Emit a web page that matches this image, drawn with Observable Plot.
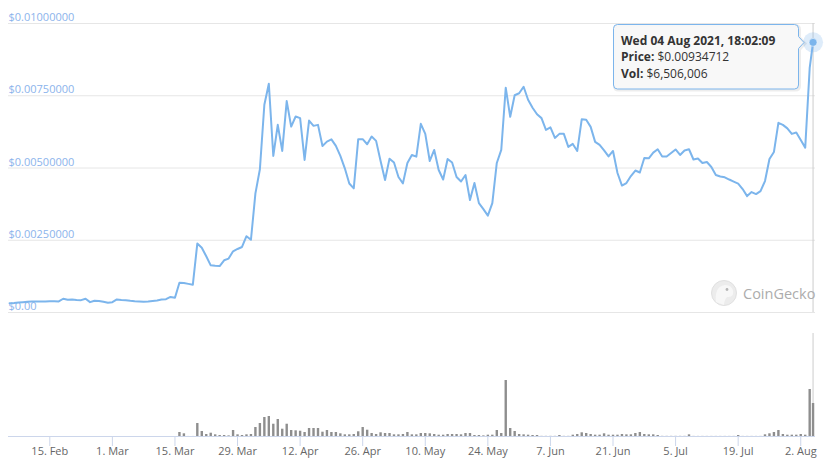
<!DOCTYPE html>
<html>
<head>
<meta charset="utf-8">
<script src="https://cdn.jsdelivr.net/npm/d3@7"></script>
<script src="https://cdn.jsdelivr.net/npm/@observablehq/plot@0.6"></script>
<style>
  html, body { margin: 0; padding: 0; background: #fff; }
  #wrap { position: relative; width: 829px; height: 469px; font-family: "Open Sans", sans-serif; }
  #wrap svg { display: block; }
  #overlay { position: absolute; left: 0; top: 0; pointer-events: none; }
</style>
</head>
<body>
<div id="wrap"></div>
<script>
// ---- data ----
const startDay = Date.UTC(2021, 1, 6);            // first daily point (6 Feb 2021)
const lastTime = Date.UTC(2021, 7, 4, 18, 2, 9);  // live point (Wed 04 Aug 2021, 18:02:09)

const prices = [
  0.000323, 0.000330, 0.000347, 0.000358, 0.000372, 0.000382, 0.000382, 0.000382, 0.000382, 0.000392,
  0.000389, 0.000382, 0.000476, 0.000441, 0.000451, 0.000434, 0.000427, 0.000476, 0.000358, 0.000406,
  0.000399, 0.000372, 0.000337, 0.000358, 0.000451, 0.000434, 0.000424, 0.000406, 0.000392, 0.000382,
  0.000372, 0.000382, 0.000399, 0.000417, 0.000451, 0.000462, 0.000538, 0.000510, 0.001031, 0.001017,
  0.000990, 0.000962, 0.002385, 0.002240, 0.001944, 0.001632, 0.001615, 0.001608, 0.001806, 0.001865,
  0.002118, 0.002198, 0.002267, 0.002639, 0.002517, 0.004122, 0.004955, 0.007188, 0.007917, 0.005417,
  0.006493, 0.005590, 0.007316, 0.006434, 0.006781, 0.006726, 0.005278, 0.006642, 0.006458, 0.006493,
  0.005764, 0.005913, 0.005990, 0.005764, 0.005417, 0.004990, 0.004462, 0.004295, 0.005997, 0.005997,
  0.005823, 0.006087, 0.005938, 0.005243, 0.004583, 0.005323, 0.005191, 0.004688, 0.004469, 0.005174,
  0.005451, 0.005392, 0.006528, 0.006181, 0.005243, 0.005625, 0.004931, 0.004601, 0.005313, 0.005191,
  0.004688, 0.004531, 0.004757, 0.003889, 0.004479, 0.003785, 0.003576, 0.003351, 0.003785, 0.005174,
  0.005625, 0.007778, 0.006771, 0.007517, 0.007587, 0.007813, 0.007361, 0.007083, 0.006858, 0.006726,
  0.006319, 0.006406, 0.006042, 0.006181, 0.006181, 0.005729, 0.005833, 0.005590, 0.006684, 0.006667,
  0.006424, 0.005903, 0.005799, 0.005608, 0.005399, 0.005590, 0.004826, 0.004392, 0.004479, 0.004722,
  0.004913, 0.004844, 0.005347, 0.005337, 0.005531, 0.005649, 0.005399, 0.005399, 0.005521, 0.005642,
  0.005451, 0.005608, 0.005649, 0.005295, 0.005330, 0.005174, 0.005208, 0.005035, 0.004757, 0.004705,
  0.004677, 0.004601, 0.004531, 0.004462, 0.004271, 0.004028, 0.004167, 0.004097, 0.004201, 0.004549,
  0.005313, 0.005556, 0.006563, 0.006493, 0.006372, 0.006181, 0.006226, 0.005972, 0.005705, 0.008462,
  0.00934712
];

// 24h volume, millions of USD
const volumes = [
  0.004, 0.004, 0.004, 0.004, 0.004, 0.004, 0.004, 0.004, 0.004, 0.004,
  0.004, 0.004, 0.004, 0.004, 0.004, 0.004, 0.004, 0.004, 0.004, 0.004,
  0.004, 0.004, 0.004, 0.004, 0.004, 0.004, 0.004, 0.004, 0.004, 0.004,
  0.004, 0.004, 0.004, 0.004, 0.004, 0.004, 0.004, 0.004, 0.79, 0.53,
  0.01, 0.01, 2.56, 0.99, 0.39, 0.65, 0.33, 0.20, 0.20, 0.12,
  1.18, 0.33, 0.20, 0.33, 0.39, 1.77, 2.56, 3.75, 3.94, 2.42,
  3.35, 1.44, 2.42, 1.18, 1.12, 1.04, 0.79, 1.58, 1.58, 1.58,
  0.85, 1.18, 0.79, 0.79, 0.53, 0.33, 0.33, 0.39, 0.93, 1.77,
  1.24, 0.59, 0.39, 0.73, 0.59, 0.59, 0.33, 0.33, 0.39, 0.79,
  0.33, 0.33, 0.59, 0.59, 0.53, 0.39, 0.26, 0.26, 0.39, 0.39,
  0.39, 0.33, 0.59, 0.59, 0.20, 0.20, 0.12, 0.26, 0.26, 1.18,
  0.59, 11.04, 1.58, 0.99, 0.39, 0.33, 0.26, 0.20, 0.20, 0.03,
  0.03, 0.03, 0.03, 0.20, 0.03, 0.03, 0.26, 0.39, 0.73, 0.59,
  0.39, 0.26, 0.26, 0.53, 0.26, 0.26, 0.26, 0.39, 0.33, 0.33,
  0.59, 0.79, 0.39, 0.33, 0.33, 0.20, 0.03, 0.03, 0.03, 0.03,
  0.03, 0.03, 0.33, 0.02, 0.02, 0.02, 0.02, 0.02, 0.02, 0.02,
  0.02, 0.02, 0.02, 0.20, 0.02, 0.02, 0.02, 0.02, 0.02, 0.33,
  0.53, 0.79, 1.18, 0.39, 0.26, 0.26, 0.26, 0.39, 0.26, 9.27,
  6.506006
];

const priceTicks = [0, 0.0025, 0.005, 0.0075, 0.01];
const priceTickLabels = ["$0.00", "$0.00250000", "$0.00500000", "$0.00750000", "$0.01000000"];

const dateTicks = [
  Date.UTC(2021, 1, 15), Date.UTC(2021, 2, 1), Date.UTC(2021, 2, 15), Date.UTC(2021, 2, 29),
  Date.UTC(2021, 3, 12), Date.UTC(2021, 3, 26), Date.UTC(2021, 4, 10), Date.UTC(2021, 4, 24),
  Date.UTC(2021, 5, 7), Date.UTC(2021, 5, 21), Date.UTC(2021, 6, 5), Date.UTC(2021, 6, 19),
  Date.UTC(2021, 7, 2)
].map(t => new Date(t));
const dateTickLabels = ["15. Feb", "1. Mar", "15. Mar", "29. Mar", "12. Apr", "26. Apr", "10. May",
  "24. May", "7. Jun", "21. Jun", "5. Jul", "19. Jul", "2. Aug"];

// ---- table ----
const rows = prices.map((p, i) => ({
  date: i < prices.length - 1 ? new Date(startDay + i * 864e5) : new Date(lastTime),
  price: p,
  vol: volumes[i]
}));
const last = rows[rows.length - 1];

const xDomain = [new Date(Date.UTC(2021, 1, 5, 18, 15)), new Date(Date.UTC(2021, 7, 5, 7, 12))];
const W = 829;
const blue = "#7cb5ec";

const topPlot = Plot.plot({
  width: W, height: 320,
  marginLeft: 8, marginRight: 14, marginTop: 23, marginBottom: 8,
  style: {fontFamily: "Open Sans, sans-serif", background: "transparent"},
  x: {type: "utc", domain: xDomain, axis: null},
  y: {domain: [0, 0.01], axis: null},
  marks: [
    Plot.ruleY(priceTicks, {stroke: "#e6e6e6", strokeWidth: 1}),
    Plot.text(priceTicks, {
      y: d => d, text: (d, i) => priceTickLabels[i], frameAnchor: "left",
      textAnchor: "start", lineAnchor: "bottom", dy: -2.5, fill: "#8cb4ec", fontSize: 11
    }),
    Plot.ruleX([last], {x: "date", stroke: "#cccccc", strokeWidth: 1}),
    Plot.line(rows, {x: "date", y: "price", stroke: blue, strokeWidth: 2, strokeLinejoin: "round"}),
    Plot.dot([last], {x: "date", y: "price", r: 10, fill: blue, fillOpacity: 0.25, stroke: null}),
    Plot.dot([last], {x: "date", y: "price", r: 4, fill: blue, stroke: "#ffffff", strokeWidth: 0.5})
  ]
});

const volBaseH = 116;
const volMax = last.vol * volBaseH / 33;
const botPlot = Plot.plot({
  width: W, height: 149,
  marginLeft: 8, marginRight: 14, marginTop: 0, marginBottom: 149 - volBaseH,
  style: {fontFamily: "Open Sans, sans-serif", background: "transparent"},
  x: {type: "utc", domain: xDomain},
  y: {domain: [0, volMax], axis: null},
  marks: [
    Plot.ruleX([last], {x: "date", stroke: "#cccccc", strokeWidth: 1, insetTop: 13}),
    Plot.ruleX(rows, {x: "date", y: "vol", stroke: "#8e8e8e", strokeWidth: 2.4}),
    Plot.ruleY([0], {stroke: "#ccd6eb", strokeWidth: 1}),
    Plot.axisX({
      ticks: dateTicks,
      tickFormat: d => dateTickLabels[dateTicks.findIndex(t => +t === +d)],
      tickSize: 10, tickPadding: 1, stroke: "#ccd6eb", fill: "#666666",
      fontSize: 11, label: null
    })
  ]
});

const wrap = document.getElementById("wrap");
wrap.appendChild(topPlot);
wrap.appendChild(botPlot);

// ---- overlay: tooltip + watermark ----
const priceText = "$" + last.price.toFixed(8);
const volText = "$" + d3.format(",")(Math.round(last.vol * 1e6));
const titleText = d3.utcFormat("%a %d %b %Y, %H:%M:%S")(last.date);

const ns = "http://www.w3.org/2000/svg";
const ov = document.createElementNS(ns, "svg");
ov.setAttribute("id", "overlay");
ov.setAttribute("width", W);
ov.setAttribute("height", 469);
ov.innerHTML = `
  <g font-family="Open Sans, sans-serif">
    <circle cx="724" cy="293" r="12.5" fill="#ececec" stroke="#e0e0e0" stroke-width="1"/>
    <path d="M716,302 C715,293 717,286 725,285 C731,285 734,289 733,294 C732,297 729,297 727,297 C725,299 724,302 724,305 Z" fill="#f7f7f7"/>
    <circle cx="727" cy="289.5" r="1.4" fill="#b5b5b5"/>
    <text x="743" y="298.5" font-size="14.5" fill="#acacac">CoinGecko</text>
    <path d="M617.5,24.5 H794.5 Q798.5,24.5 798.5,28.5 V36.5 L804,42.5 L798.5,48.5 V85 Q798.5,89 794.5,89 H617.5 Q613.5,89 613.5,85 V28.5 Q613.5,24.5 617.5,24.5 Z"
      fill="none" stroke="rgba(0,0,0,0.07)" stroke-width="3" transform="translate(1,1)"/>
    <path d="M617.5,24.5 H794.5 Q798.5,24.5 798.5,28.5 V36.5 L804,42.5 L798.5,48.5 V85 Q798.5,89 794.5,89 H617.5 Q613.5,89 613.5,85 V28.5 Q613.5,24.5 617.5,24.5 Z"
      fill="rgba(247,247,247,0.9)" stroke="${blue}" stroke-width="1"/>
    <text x="621" y="44.5" font-size="12" font-weight="bold" fill="#333333">${titleText}</text>
    <text x="621" y="61" font-size="12" fill="#333333"><tspan font-weight="bold">Price:</tspan> ${priceText}</text>
    <text x="621" y="77.5" font-size="12" fill="#333333"><tspan font-weight="bold">Vol:</tspan> ${volText}</text>
  </g>`;
wrap.appendChild(ov);
</script>
</body>
</html>
